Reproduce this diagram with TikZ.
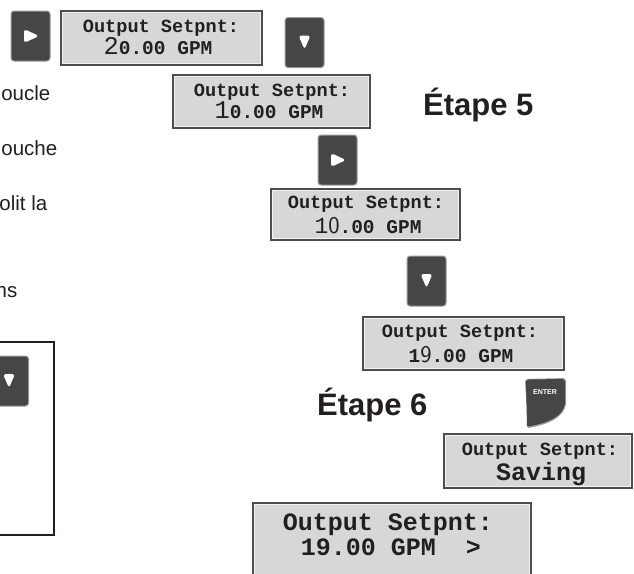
\documentclass[tikz,border=0pt]{standalone}
\usepackage{fontspec}
\setmainfont{Liberation Sans}
\newfontfamily\lcdfont{Liberation Mono}
\definecolor{ink}{HTML}{231F20}
\definecolor{btndark}{HTML}{464646}
\definecolor{btnrim}{HTML}{9C9C9C}
\definecolor{lcdfill}{HTML}{D7D7D7}
\definecolor{lcdedge}{HTML}{4D4D4D}
\definecolor{lcdin}{HTML}{F2F2F2}
\newcommand\lcdA{\lcdfont\bfseries\fontsize{18.6}{20}\selectfont}
\newcommand\lcdB{\lcdfont\bfseries\fontsize{19.5}{21}\selectfont}
\newcommand\lcdBig{\lcdfont\mdseries\fontsize{25.5}{26}\selectfont}
\newcommand\sansBig{\sffamily\fontsize{24}{25}\selectfont}
\newcommand\lcdL{\lcdfont\bfseries\fontsize{25}{27}\selectfont}
\tikzset{
  lcdbox/.style={draw=lcdedge, line width=1.6pt, fill=lcdfill, inner sep=0pt},
  lcdinner/.style={draw=lcdin, line width=0.7pt},
  lcdtext/.style={text=ink, anchor=base, inner sep=0pt},
  btn/.style={fill=btndark, draw=btnrim, line width=1pt, rounded corners=3pt,
    minimum width=39pt, minimum height=50pt, inner sep=0pt},
  rightbtn/.style={btn, path picture={\fill[white]
    ([shift={(-6.5,-7)}]path picture bounding box.center) --
    ([shift={(-6.5,7)}]path picture bounding box.center) --
    ([shift={(8.5,0)}]path picture bounding box.center) -- cycle;}},
  downbtn/.style={btn, path picture={\fill[white]
    ([shift={(-6,-7)}]path picture bounding box.center) --
    ([shift={(6,-7)}]path picture bounding box.center) --
    ([shift={(0,7)}]path picture bounding box.center) -- cycle;}},
  etape/.style={text=ink, anchor=base west, inner sep=0pt, font=\bfseries\fontsize{31}{33}\selectfont},
  side/.style={text=ink, anchor=base east, inner sep=0pt, font=\fontsize{20.5}{22}\selectfont},
  frame/.style={draw=ink, line width=2pt}
}
\begin{document}
\begin{tikzpicture}[x=1pt,y=-1pt]
\clip (0,0) rectangle (634,573);
\fill[white] (0,0) rectangle (634,573);

% left clipped paragraph
\node[side] (s1) at (50.5,100) {oucle};
\node[side] (s2) at (57.5,155) {ouche};
\node[side] (s3) at (47.5,210) {olit la};
\node[side] (s4) at (17.5,297) {ns};

% left frame with down key
\draw[frame] (-20,342) rectangle (54,535);
\node[downbtn] (k5) at (9,381) {};

% keys
\node[rightbtn] (k1) at (30.5,36) {};
\node[downbtn] (k2) at (304.5,42.5) {};
\node[rightbtn] (k3) at (337.5,160) {};
\node[downbtn] (k4) at (426.5,281) {};

% ENTER key
\fill[btnrim] (525,381) [rounded corners=3pt] -- (525,379) -- (566,378) [sharp corners] -- (566,404)
  .. controls (564,416) and (552,424) .. (528,428) -- cycle;
\fill[btndark] (526,381) [rounded corners=3pt] -- (526,379.5) -- (565,379) [sharp corners] -- (565,404)
  .. controls (563,415) and (551,423) .. (527,426.5) -- cycle;
\node[text=white, inner sep=0pt, font=\bfseries\fontsize{7}{8}\selectfont] (ent) at (545,392) {ENTER};

% LCD 1
\node[lcdbox, minimum width=201pt, minimum height=54pt] (d1) at (161.5,38) {};
\draw[lcdinner] ([shift={(2,2)}]d1.north west) rectangle ([shift={(-2,-2)}]d1.south east);
\node[lcdtext] (d1a) at (161,32) {\lcdA Output Setpnt:};
\node[lcdtext] (d1b) at (158,54) {{\lcdBig 2}\lcdB 0.00 GPM};

% LCD 2
\node[lcdbox, minimum width=197pt, minimum height=53pt] (d2) at (271.5,101.5) {};
\draw[lcdinner] ([shift={(2,2)}]d2.north west) rectangle ([shift={(-2,-2)}]d2.south east);
\node[lcdtext] (d2a) at (272,96) {\lcdA Output Setpnt:};
\node[lcdtext] (d2b) at (269,118) {{\lcdBig 1}\lcdB 0.00 GPM};

% LCD 3
\node[lcdbox, minimum width=189pt, minimum height=51pt] (d3) at (365.5,214.5) {};
\draw[lcdinner] ([shift={(2,2)}]d3.north west) rectangle ([shift={(-2,-2)}]d3.south east);
\node[lcdtext] (d3a) at (366,208) {\lcdA Output Setpnt:};
\node[lcdtext] (d3b) at (368,233) {{\lcdfont\mdseries\fontsize{23}{24}\selectfont 1}{\sansBig 0}\lcdB .00 GPM};

% LCD 4
\node[lcdbox, minimum width=201pt, minimum height=53pt] (d4) at (463.5,343.5) {};
\draw[lcdinner] ([shift={(2,2)}]d4.north west) rectangle ([shift={(-2,-2)}]d4.south east);
\node[lcdtext] (d4a) at (460,337) {\lcdA Output Setpnt:};
\node[lcdtext] (d4b) at (461,362) {{\lcdB 1}{\sansBig 9}\lcdB .00 GPM};

% LCD 5
\node[lcdbox, minimum width=188pt, minimum height=54pt] (d5) at (538,461) {};
\draw[lcdinner] ([shift={(2,2)}]d5.north west) rectangle ([shift={(-2,-2)}]d5.south east);
\node[lcdtext] (d5a) at (540,455) {\lcdA Output Setpnt:};
\node[lcdtext] (d5b) at (541,480) {\lcdL Saving};

% LCD 6
\node[lcdbox, minimum width=278pt, minimum height=90pt] (d6) at (392,548) {};
\draw[lcdinner] ([shift={(2,2)}]d6.north west) rectangle ([shift={(-2,-2)}]d6.south east);
\node[lcdtext] (d6a) at (388,530) {\lcdL Output Setpnt:};
\node[lcdtext] (d6b) at (391,555) {\lcdL 19.00 GPM~~>};

% step labels
\node[etape] (e5) at (423,115) {Étape 5};
\node[etape] (e6) at (317,415) {Étape 6};
\end{tikzpicture}
\end{document}
